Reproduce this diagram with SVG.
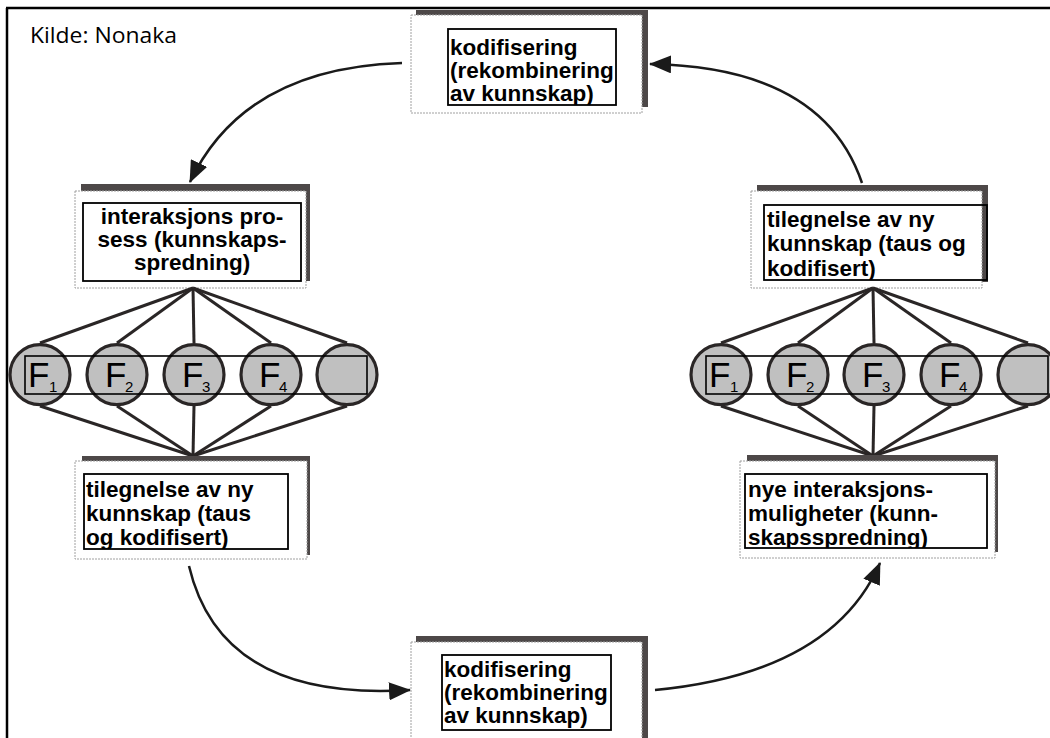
<svg xmlns="http://www.w3.org/2000/svg" width="1050" height="738" viewBox="0 0 1050 738">
<style>
.shadow{fill:#4d4848}
.card{fill:#fff;stroke:#a0a0a0;stroke-width:1;stroke-dasharray:2 1}
.inner{fill:none;stroke:#000;stroke-width:1.8}
.lbl{font-family:"Liberation Sans",Arial,sans-serif;font-weight:bold;font-size:22.5px;fill:#000}
.circ{fill:#c0c0c0;stroke:#2a2626;stroke-width:3.2}
.spoke{stroke:#2a2626;stroke-width:3;fill:none}
.band{fill:none;stroke:#000;stroke-width:1.6}
.F{font-family:"Liberation Sans",Arial,sans-serif;font-size:35px;fill:#000}
.sub{font-family:"Liberation Sans",Arial,sans-serif;font-size:15px;fill:#000}
.arc{fill:none;stroke:#1a1a1a;stroke-width:2.5}
</style>
<defs>
<marker id="ah" markerUnits="userSpaceOnUse" markerWidth="22" markerHeight="18" viewBox="0 0 22 18" refX="21" refY="9" orient="auto">
<path d="M0,0 L22,9 L0,18 z" fill="#1a1a1a"/>
</marker>
<clipPath id="c1"><rect x="448" y="29" width="168" height="76"/></clipPath>
<clipPath id="c2"><rect x="83" y="203" width="218" height="78"/></clipPath>
<clipPath id="c3"><rect x="84" y="474" width="204" height="75"/></clipPath>
<clipPath id="c4"><rect x="442" y="655" width="169" height="75"/></clipPath>
<clipPath id="c5"><rect x="764" y="205" width="223" height="75"/></clipPath>
<clipPath id="c6"><rect x="745" y="474" width="242" height="74"/></clipPath>
</defs>
<rect width="1050" height="738" fill="#fff"/>
<g id="frame">
<line x1="7" y1="8" x2="7" y2="738" stroke="#000" stroke-width="2.5"/>
<line x1="6" y1="8" x2="1050" y2="8" stroke="#000" stroke-width="2.5"/>
</g>
<text x="30" y="43" font-family="'Open Sans','Noto Sans',sans-serif" font-size="21.5" textLength="147" lengthAdjust="spacingAndGlyphs" fill="#000">Kilde: Nonaka</text>

<g id="connectors">
<path class="arc" d="M402,63 Q244,68 190,182" marker-end="url(#ah)"/>
<path class="arc" d="M862,183 Q823,67 650,64" marker-end="url(#ah)"/>
<path class="arc" d="M189,566 Q221,702 410,690" marker-end="url(#ah)"/>
<path class="arc" d="M655,690 Q832,673 880,563" marker-end="url(#ah)"/>
</g>

<g id="box-top">
<rect class="shadow" x="416" y="10" width="232" height="97"/>
<rect class="card" x="411" y="15" width="231" height="98"/>
<g clip-path="url(#c1)" class="lbl">
<text x="450" y="55">kodifisering</text>
<text x="450" y="78">(rekombinering</text>
<text x="450" y="101">av kunnskap)</text>
</g>
<rect class="inner" x="448" y="29" width="168" height="76"/>
</g>

<g id="box-left-top">
<rect class="shadow" x="81" y="184" width="229" height="97"/>
<rect class="card" x="75" y="191" width="231" height="97"/>
<g clip-path="url(#c2)" class="lbl" text-anchor="middle">
<text x="192" y="224">interaksjons pro-</text>
<text x="192" y="247">sess (kunnskaps-</text>
<text x="192" y="270">spredning)</text>
</g>
<rect class="inner" x="83" y="203" width="218" height="78"/>
</g>

<g id="group-left">
<g class="spoke">
<line x1="193" y1="288" x2="40" y2="343"/>
<line x1="193" y1="288" x2="117" y2="343"/>
<line x1="193" y1="288" x2="194" y2="343"/>
<line x1="193" y1="288" x2="271" y2="343"/>
<line x1="193" y1="288" x2="347" y2="343"/>
<line x1="193" y1="456" x2="40" y2="406"/>
<line x1="193" y1="456" x2="117" y2="406"/>
<line x1="193" y1="456" x2="194" y2="406"/>
<line x1="193" y1="456" x2="271" y2="406"/>
<line x1="193" y1="456" x2="347" y2="406"/>
</g>
<circle class="circ" cx="40" cy="374.7" r="30"/>
<circle class="circ" cx="117" cy="374.7" r="30"/>
<circle class="circ" cx="194" cy="374.7" r="30"/>
<circle class="circ" cx="271" cy="374.7" r="30"/>
<circle class="circ" cx="347" cy="374.7" r="30"/>
<rect class="band" x="25" y="356" width="342" height="38"/>
<text class="F" x="28" y="387">F</text><text class="sub" x="49" y="392">1</text>
<text class="F" x="105" y="387">F</text><text class="sub" x="125" y="392">2</text>
<text class="F" x="182" y="387">F</text><text class="sub" x="202" y="392">3</text>
<text class="F" x="259" y="387">F</text><text class="sub" x="279" y="392">4</text>
</g>

<g id="box-left-bottom">
<rect class="shadow" x="82" y="456" width="228" height="99"/>
<rect class="card" x="75" y="461" width="232" height="98"/>
<g clip-path="url(#c3)" class="lbl">
<text x="86" y="497">tilegnelse av ny</text>
<text x="86" y="521">kunnskap  (taus</text>
<text x="86" y="545">og kodifisert)</text>
</g>
<rect class="inner" x="84" y="474" width="204" height="75"/>
</g>

<g id="box-bottom">
<rect class="shadow" x="416" y="636" width="232" height="102"/>
<rect class="card" x="411" y="642" width="231" height="100"/>
<g clip-path="url(#c4)" class="lbl">
<text x="444" y="677">kodifisering</text>
<text x="444" y="700">(rekombinering</text>
<text x="444" y="723">av kunnskap)</text>
</g>
<rect class="inner" x="442" y="655" width="169" height="75"/>
</g>

<g id="box-right-top">
<rect class="shadow" x="757" y="185" width="231" height="97"/>
<rect class="card" x="751" y="191" width="231" height="97"/>
<g clip-path="url(#c5)" class="lbl">
<text x="767" y="227">tilegnelse av ny</text>
<text x="767" y="251">kunnskap  (taus og</text>
<text x="767" y="276">kodifisert)</text>
</g>
<rect class="inner" x="764" y="205" width="223" height="75"/>
</g>

<g id="group-right">
<g class="spoke">
<line x1="873" y1="288" x2="721" y2="343"/>
<line x1="873" y1="288" x2="798" y2="343"/>
<line x1="873" y1="288" x2="874" y2="343"/>
<line x1="873" y1="288" x2="951" y2="343"/>
<line x1="873" y1="288" x2="1028" y2="343"/>
<line x1="873" y1="456" x2="721" y2="406"/>
<line x1="873" y1="456" x2="798" y2="406"/>
<line x1="873" y1="456" x2="874" y2="406"/>
<line x1="873" y1="456" x2="951" y2="406"/>
<line x1="873" y1="456" x2="1028" y2="406"/>
</g>
<circle class="circ" cx="721" cy="374.7" r="30"/>
<circle class="circ" cx="798" cy="374.7" r="30"/>
<circle class="circ" cx="874" cy="374.7" r="30"/>
<circle class="circ" cx="951" cy="374.7" r="30"/>
<circle class="circ" cx="1028" cy="374.7" r="30"/>
<rect class="band" x="706" y="356" width="342" height="38"/>
<text class="F" x="709" y="387">F</text><text class="sub" x="730" y="392">1</text>
<text class="F" x="786" y="387">F</text><text class="sub" x="806" y="392">2</text>
<text class="F" x="862" y="387">F</text><text class="sub" x="882" y="392">3</text>
<text class="F" x="939" y="387">F</text><text class="sub" x="959" y="392">4</text>
</g>

<g id="box-right-bottom">
<rect class="shadow" x="747" y="455" width="251" height="97"/>
<rect class="card" x="740" y="461" width="255" height="97"/>
<g clip-path="url(#c6)" class="lbl">
<text x="748" y="497">nye interaksjons-</text>
<text x="748" y="521">muligheter  (kunn-</text>
<text x="748" y="545">skapsspredning)</text>
</g>
<rect class="inner" x="745" y="474" width="242" height="74"/>
</g>
</svg>
